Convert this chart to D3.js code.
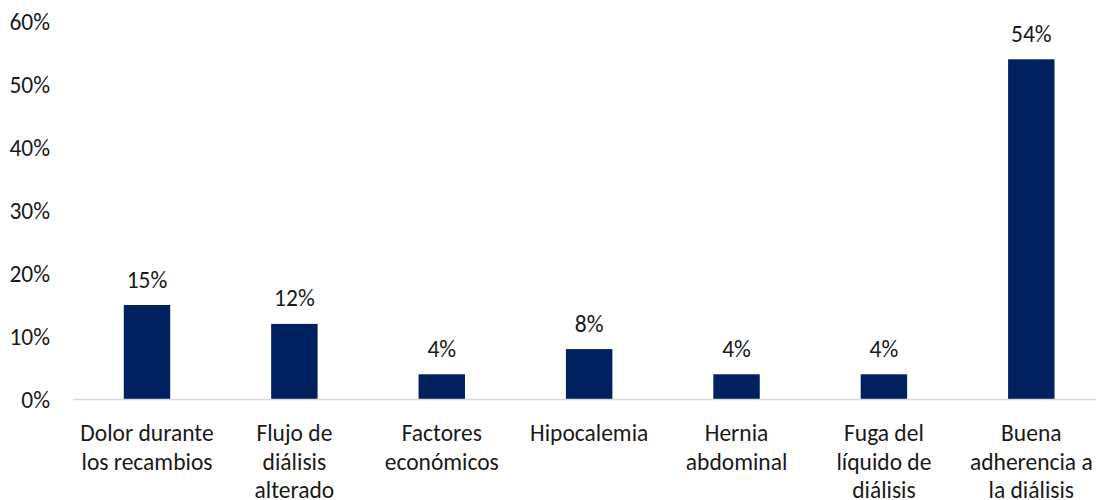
<!DOCTYPE html>
<html>
<head>
<meta charset="utf-8">
<script src="https://cdn.jsdelivr.net/npm/d3@7"></script>
<style>
  html, body { margin: 0; padding: 0; background: #fff; }
  svg { display: block; }
  text { font-family: Carlito, Calibri, Lato, "Open Sans", sans-serif; fill: #1a1a1a; }
</style>
</head>
<body>
<svg id="chart" width="1096" height="500"></svg>
<script>
// Categories and their percentages
const categories = [
  "Dolor durante los recambios",
  "Flujo de diálisis alterado",
  "Factores económicos",
  "Hipocalemia",
  "Hernia abdominal",
  "Fuga del líquido de diálisis",
  "Buena adherencia a la diálisis"
];
const values = [15, 12, 4, 8, 4, 4, 54];
const yTicks = [0, 10, 20, 30, 40, 50, 60];

const W = 1096, H = 500;
const margin = { left: 73.3, right: -9, top: 21.5, bottom: 100.5 };
const fontSize = 23.5;

const svg = d3.select("#chart");

const x = d3.scaleBand()
  .domain(categories)
  .range([margin.left, W - margin.right])
  .paddingInner(0.685)
  .paddingOuter(0.3425);

const y = d3.scaleLinear()
  .domain([0, 60])
  .range([H - margin.bottom, margin.top]);

// Y axis labels (no axis line, no ticks)
const yAxis = d3.axisLeft(y)
  .tickValues(yTicks)
  .tickFormat(d => d + "%")
  .tickSize(0)
  .tickPadding(0);

const yg = svg.append("g")
  .attr("transform", `translate(50,0)`)
  .call(yAxis);
yg.select(".domain").remove();
yg.selectAll("text")
  .style("font-size", fontSize + "px")
  .attr("dy", "0.36em");

// Bars
svg.append("g")
  .selectAll("rect")
  .data(values)
  .join("rect")
  .attr("x", (d, i) => x(categories[i]))
  .attr("y", d => y(d))
  .attr("width", x.bandwidth())
  .attr("height", d => y(0) - y(d))
  .attr("fill", "#002060");

// Value labels above bars
svg.append("g")
  .selectAll("text")
  .data(values)
  .join("text")
  .attr("x", (d, i) => x(categories[i]) + x.bandwidth() / 2)
  .attr("y", d => y(d) - 17.5)
  .attr("text-anchor", "middle")
  .style("font-size", fontSize + "px")
  .text(d => d + "%");

// Baseline
svg.append("line")
  .attr("x1", margin.left)
  .attr("x2", W)
  .attr("y1", y(0))
  .attr("y2", y(0))
  .attr("stroke", "#d9d9d9")
  .attr("stroke-width", 1.5);

// X axis category labels, wrapped to a fixed width
const xAxis = d3.axisBottom(x).tickSize(0).tickPadding(0);
const xg = svg.append("g")
  .attr("transform", `translate(0,${y(0)})`)
  .call(xAxis);
xg.select(".domain").remove();

const maxWidth = 140;
const lineHeight = 28.3;
xg.selectAll("text")
  .style("font-size", fontSize + "px")
  .attr("text-anchor", "middle")
  .each(function(d) {
    const t = d3.select(this);
    const words = d.split(" ");
    t.text(null).attr("y", 0).attr("dy", null);
    let lines = [];
    let line = [];
    let tspan = t.append("tspan");
    for (const w of words) {
      line.push(w);
      tspan.text(line.join(" "));
      if (tspan.node().getComputedTextLength() > maxWidth && line.length > 1) {
        line.pop();
        lines.push(line.join(" "));
        line = [w];
        tspan.text(w);
      }
    }
    lines.push(line.join(" "));
    t.text(null);
    lines.forEach((l, i) => {
      t.append("tspan")
        .attr("x", 0)
        .attr("y", 41.8 + i * lineHeight)
        .text(l);
    });
  });
</script>
</body>
</html>
